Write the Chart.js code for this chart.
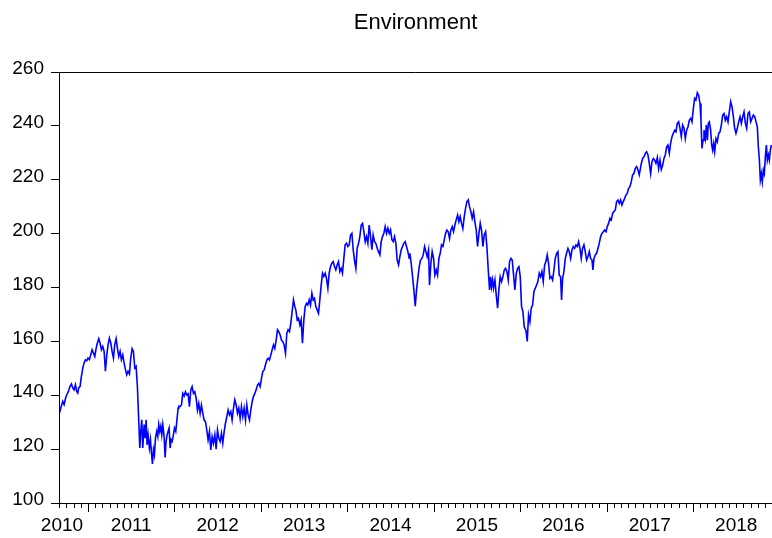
<!DOCTYPE html>
<html><head><meta charset="utf-8">
<script src="https://cdn.jsdelivr.net/npm/chart.js@4/dist/chart.umd.min.js"></script>
<style>html,body{margin:0;padding:0;background:#fff}#wrap{width:772px;height:538px}</style>
</head><body><div id="wrap"><canvas id="c" width="772" height="538"></canvas></div>
<script>
const chartTitle = 'Environment';
const years = [2010,2011,2012,2013,2014,2015,2016,2017,2018];
const yTicks = [100,120,140,160,180,200,220,240,260];
const dates = [
2010.669,2010.684,2010.707,2010.723,2010.738,2010.754,2010.773,2010.792,2010.808,2010.823,
2010.838,2010.854,2010.869,2010.881,2010.892,2010.908,2010.923,2010.939,2010.954,2010.970,
2010.985,2011.000,2011.016,2011.031,2011.047,2011.062,2011.078,2011.093,2011.108,2011.124,
2011.139,2011.155,2011.170,2011.186,2011.201,2011.217,2011.232,2011.247,2011.263,2011.278,
2011.294,2011.309,2011.325,2011.340,2011.355,2011.371,2011.386,2011.402,2011.417,2011.433,
2011.448,2011.463,2011.479,2011.494,2011.510,2011.525,2011.541,2011.556,2011.571,2011.587,
2011.599,2011.610,2011.622,2011.633,2011.649,2011.660,2011.672,2011.683,2011.695,2011.710,
2011.722,2011.734,2011.745,2011.757,2011.768,2011.780,2011.795,2011.807,2011.818,2011.830,
2011.842,2011.853,2011.865,2011.880,2011.892,2011.903,2011.915,2011.927,2011.938,2011.950,
2011.961,2011.973,2011.988,2012.000,2012.015,2012.027,2012.042,2012.050,
2012.062,2012.081,2012.096,2012.112,2012.127,2012.143,2012.158,2012.173,2012.189,2012.204,
2012.220,2012.235,2012.251,2012.266,2012.281,2012.297,2012.312,2012.328,2012.343,2012.359,
2012.374,2012.389,2012.405,2012.420,2012.436,2012.451,2012.467,2012.482,2012.498,2012.513,
2012.528,2012.544,2012.559,2012.575,2012.590,2012.606,2012.621,2012.636,2012.652,2012.667,
2012.683,2012.698,2012.714,2012.729,2012.744,2012.760,2012.775,2012.791,2012.806,2012.822,
2012.837,2012.852,2012.868,2012.883,2012.899,2012.914,2012.930,2012.945,2012.961,2012.976,
2012.991,2013.007,2013.022,2013.038,2013.053,2013.069,2013.084,2013.099,2013.115,2013.130,
2013.146,2013.161,2013.177,2013.192,2013.207,2013.223,2013.238,2013.254,2013.269,2013.285,
2013.300,2013.315,2013.331,2013.346,2013.362,2013.377,2013.393,
2013.404,2013.420,2013.435,2013.451,2013.466,2013.481,2013.497,2013.512,2013.528,2013.543,
2013.559,2013.574,2013.590,2013.605,2013.620,2013.636,2013.651,2013.667,2013.682,2013.698,
2013.713,2013.728,2013.744,2013.759,2013.775,2013.790,2013.806,2013.821,2013.836,2013.852,
2013.867,2013.883,2013.898,2013.914,2013.929,2013.944,2013.960,2013.975,2013.991,2014.006,
2014.022,2014.037,2014.053,2014.068,2014.083,2014.099,2014.114,2014.130,2014.145,2014.161,
2014.176,2014.191,2014.207,2014.222,2014.238,2014.253,2014.269,2014.284,2014.299,2014.315,
2014.330,2014.346,2014.361,2014.377,2014.392,2014.407,2014.423,2014.438,2014.454,2014.469,
2014.485,2014.500,2014.516,2014.531,2014.546,2014.562,2014.577,2014.593,2014.608,2014.624,
2014.639,2014.654,2014.670,2014.685,2014.701,2014.716,
2014.724,2014.739,2014.755,2014.770,2014.786,2014.801,2014.816,2014.832,2014.847,2014.863,
2014.878,2014.894,2014.909,2014.924,2014.940,2014.951,2014.967,2014.982,2014.998,2015.013,
2015.029,2015.044,2015.060,2015.075,2015.090,2015.106,2015.121,2015.137,2015.152,2015.168,
2015.183,2015.198,2015.214,2015.229,2015.245,2015.260,2015.276,2015.291,2015.306,2015.322,
2015.337,2015.353,2015.368,2015.384,2015.399,2015.414,2015.430,2015.445,2015.461,2015.476,
2015.492,2015.507,2015.523,2015.538,2015.553,2015.569,2015.584,2015.600,2015.615,2015.631,
2015.646,2015.658,2015.669,2015.681,2015.692,2015.708,2015.723,2015.739,2015.754,2015.769,
2015.785,2015.800,2015.816,2015.831,2015.847,2015.862,2015.877,2015.893,2015.908,2015.924,
2015.939,2015.955,2015.970,2015.986,2016.001,2016.016,2016.032,2016.047,
2016.067,2016.082,2016.097,2016.113,2016.128,2016.144,2016.159,2016.175,2016.190,2016.205,
2016.221,2016.236,2016.252,2016.267,2016.283,2016.298,2016.313,2016.329,2016.344,2016.360,
2016.375,2016.391,2016.406,2016.422,2016.437,2016.452,2016.468,2016.479,2016.491,2016.506,
2016.522,2016.537,2016.553,2016.568,2016.584,2016.599,2016.614,2016.630,2016.645,2016.661,
2016.676,2016.692,2016.707,2016.722,2016.738,2016.753,2016.769,2016.784,2016.800,2016.815,
2016.831,2016.842,2016.854,2016.869,2016.885,2016.900,2016.915,2016.931,2016.946,2016.962,
2016.977,2016.993,2017.008,2017.023,2017.039,2017.054,2017.070,2017.085,2017.101,2017.116,
2017.132,2017.147,2017.162,2017.178,2017.193,2017.209,2017.224,2017.240,2017.255,2017.270,
2017.286,2017.301,2017.317,2017.332,2017.348,2017.363,2017.378,
2017.402,2017.417,2017.433,2017.448,2017.463,2017.479,2017.494,2017.510,2017.525,2017.541,
2017.556,2017.571,2017.587,2017.602,2017.618,2017.633,2017.649,2017.664,2017.679,2017.695,
2017.710,2017.726,2017.741,2017.757,2017.772,2017.788,2017.803,2017.818,2017.834,2017.849,
2017.865,2017.880,2017.896,2017.911,2017.926,2017.942,2017.957,2017.973,2017.988,2018.004,
2018.019,2018.034,2018.050,2018.065,2018.081,2018.092,2018.104,2018.116,2018.127,2018.143,
2018.154,2018.166,2018.177,2018.189,2018.204,2018.216,2018.227,2018.239,2018.251,2018.266,
2018.281,2018.297,2018.312,2018.328,2018.343,2018.359,2018.374,2018.389,2018.405,2018.420,
2018.436,2018.451,2018.467,2018.482,2018.497,2018.513,2018.528,2018.544,2018.559,2018.575,
2018.590,2018.606,2018.621,2018.636,2018.652,2018.667,2018.683,2018.698,2018.714,2018.729,
2018.744,2018.756,2018.768,2018.779,2018.791,2018.802,2018.814,2018.825,2018.837,2018.849,
2018.860,2018.872,2018.883,2018.895,2018.906
];
const values = [
133.4,135.2,137.7,136.5,138.7,140.2,141.4,143.3,144.2,142.7,
142.0,143.9,141.4,140.8,142.7,143.3,147.0,150.1,152.0,153.2,
152.8,153.8,153.2,155.0,156.9,155.7,154.4,157.3,159.4,161.0,
159.4,156.9,158.1,156.3,148.9,155.0,158.8,161.2,159.4,156.3,
153.8,158.8,161.0,157.5,154.4,156.3,153.2,155.0,152.0,149.5,
147.6,148.9,147.9,153.8,157.3,156.3,150.1,150.7,143.3,130.3,
120.4,126.6,130.9,120.4,129.1,124.1,130.9,121.6,125.3,120.4,
123.5,118.5,114.5,119.8,117.9,124.1,126.6,124.7,129.1,126.6,
128.5,125.3,129.1,124.7,116.9,122.9,125.3,126.6,127.8,120.4,
123.5,122.9,125.3,127.8,126.6,130.3,135.2,135.9,
135.8,136.4,140.7,139.7,141.3,140.1,140.5,135.8,142.0,143.2,
140.7,141.3,138.9,134.5,137.0,133.3,136.4,133.3,130.8,130.2,
127.1,123.4,126.5,119.7,124.6,122.2,125.3,120.0,127.1,124.0,
122.8,125.9,122.2,126.5,129.6,132.1,134.5,132.7,133.9,130.8,
135.2,138.3,136.4,133.3,135.2,131.4,135.8,132.1,135.2,130.8,
136.4,132.7,130.8,134.5,137.6,139.5,140.7,142.0,143.8,144.4,
143.2,146.3,148.8,149.4,151.3,153.1,153.7,153.1,155.0,156.8,
158.7,157.4,160.5,164.3,163.6,162.4,160.5,159.9,158.7,155.6,
163.0,164.3,163.6,166.7,171.1,175.4,172.9,
171.7,168.0,168.6,166.1,168.0,159.3,168.0,172.9,174.1,173.5,
175.4,173.5,177.9,175.4,176.0,172.9,171.7,170.4,175.4,181.0,
185.3,184.1,185.3,183.4,179.7,185.3,187.8,189.0,189.6,187.8,
186.5,188.4,189.6,185.9,187.1,185.3,190.9,195.8,196.4,195.2,
195.8,199.5,200.1,194.0,190.2,187.1,194.6,196.4,198.9,203.2,
203.8,200.8,197.0,198.9,196.4,203.2,198.9,194.0,199.5,197.0,
196.4,194.6,193.3,192.1,197.0,198.9,200.1,202.6,200.1,202.0,
200.1,201.4,197.7,197.0,198.9,196.4,190.2,188.4,191.5,194.0,
195.2,196.4,197.0,195.2,193.3,190.9,
192.7,189.0,184.0,179.1,173.1,179.1,183.4,187.7,190.2,190.8,
192.1,195.2,193.3,191.4,193.9,180.9,189.0,193.3,190.8,184.6,
186.5,184.6,190.8,192.7,195.8,195.2,197.6,200.1,201.3,200.7,
198.2,201.3,202.6,200.7,203.2,205.1,206.9,204.4,206.3,203.8,
201.9,206.3,209.4,211.9,212.5,210.0,208.1,205.7,208.1,204.4,
201.3,195.2,200.1,203.8,201.3,195.2,199.5,200.7,195.2,186.5,
179.1,184.0,180.3,182.8,179.7,182.8,177.2,172.3,179.1,184.0,
182.2,184.0,186.5,187.1,185.9,182.8,189.6,190.8,190.2,184.6,
179.1,185.2,187.1,187.7,184.0,172.9,171.0,165.4,
164.0,160.0,169.8,167.3,172.3,173.5,178.4,179.7,180.9,182.2,
185.3,184.0,185.9,182.2,188.3,189.6,192.1,189.0,183.4,184.0,
182.8,186.5,190.8,192.7,193.3,184.6,184.0,175.4,183.4,185.9,
190.8,192.7,194.5,193.3,190.8,193.9,195.2,194.5,195.8,195.2,
197.0,194.5,190.8,194.5,195.8,193.3,190.2,191.4,193.3,190.8,
190.2,186.5,190.8,192.1,192.7,194.5,196.4,198.9,200.1,200.7,
201.3,200.7,202.6,203.8,205.7,205.1,207.5,208.2,208.8,211.9,
212.5,211.2,212.5,210.6,211.9,213.1,214.3,215.0,216.8,217.4,
219.3,221.8,222.4,224.2,224.9,223.6,221.8,
226.1,227.9,228.5,229.8,230.4,229.2,226.1,222.3,226.7,227.9,
227.3,226.1,228.3,224.2,227.3,223.8,225.4,227.9,229.2,232.2,
232.9,229.8,233.5,236.0,237.2,238.4,237.8,240.9,241.5,239.1,
236.0,240.3,239.1,235.3,238.4,239.7,242.1,242.8,241.5,246.5,
250.2,249.6,252.3,251.4,248.3,242.1,231.6,234.7,238.4,235.3,
240.3,234.7,240.9,241.5,238.4,232.9,231.0,233.5,230.4,235.3,
234.1,237.2,237.8,240.3,244.0,244.6,242.1,243.4,241.5,245.2,
249.0,247.1,243.4,239.1,237.2,239.1,241.5,243.4,240.9,243.4,
245.2,240.9,239.1,244.6,245.2,241.5,242.8,244.0,243.4,241.5,
239.7,232.2,227.3,219.9,222.3,219.3,223.6,222.3,228.5,232.9,
227.3,229.2,227.3,231.0,232.9
];
const xMin = 2010.664, xMax = 2018.914;
const FONT = '"Liberation Sans", Arial, sans-serif';

const axisDecor = {
  id: 'axisDecor',
  afterDraw(chart) {
    const {ctx, chartArea: a, scales: {x}} = chart;
    ctx.save();
    ctx.strokeStyle = '#000';
    ctx.lineWidth = 1;
    ctx.beginPath();
    ctx.moveTo(a.left + 0.5, a.bottom + 0.5);
    ctx.lineTo(a.left + 0.5, a.top + 0.5);
    ctx.lineTo(a.right, a.top + 0.5);
    ctx.moveTo(a.left, a.bottom + 0.5);
    ctx.lineTo(a.right, a.bottom + 0.5);
    for (let yr = years[0]; yr <= years[years.length - 1] + 1; yr++) {
      for (let m = 0; m < 12; m++) {
        const v = yr + m / 12;
        if (v < x.min || v > x.max) continue;
        const px = Math.round(x.getPixelForValue(v)) + 0.5;
        ctx.moveTo(px, a.bottom);
        ctx.lineTo(px, a.bottom + (m === 0 ? 9 : 5));
      }
    }
    ctx.stroke();
    ctx.fillStyle = '#000';
    ctx.font = '19px ' + FONT;
    ctx.textAlign = 'center';
    ctx.textBaseline = 'middle';
    years.forEach(yr => {
      const px = Math.max(x.getPixelForValue(yr + 0.5), a.left + 3);
      ctx.fillText(String(yr), px, a.bottom + 23);
    });
    ctx.restore();
  }
};

new Chart(document.getElementById('c'), {
  type: 'line',
  data: {
    datasets: [{
      data: dates.map((d, i) => ({x: d, y: values[i]})),
      borderColor: '#0000ff',
      borderWidth: 1.6,
      pointRadius: 0,
      tension: 0,
      fill: false
    }]
  },
  options: {
    responsive: false,
    animation: false,
    devicePixelRatio: 1,
    layout: {padding: 0},
    plugins: {
      legend: {display: false},
      tooltip: {enabled: false},
      title: {
        display: true, text: chartTitle, fullSize: false,
        color: '#000', font: {family: FONT, size: 22, weight: 'normal'},
        padding: {top: 10, bottom: 35.6}
      }
    },
    scales: {
      x: {
        type: 'linear', min: xMin, max: xMax,
        ticks: {display: false},
        grid: {display: false, drawTicks: false},
        border: {display: false},
        afterFit: s => { s.height = 35; }
      },
      y: {
        type: 'linear', min: 100, max: 260,
        afterBuildTicks: s => { s.ticks = yTicks.map(v => ({value: v})); },
        ticks: {color: '#000', font: {family: FONT, size: 19}, padding: 7, labelOffset: -3},
        grid: {display: true, drawOnChartArea: false, drawTicks: true, tickLength: 8, color: '#000'},
        border: {display: false},
        afterFit: s => { s.width = 59; }
      }
    }
  },
  plugins: [axisDecor]
});
</script>
</body></html>
